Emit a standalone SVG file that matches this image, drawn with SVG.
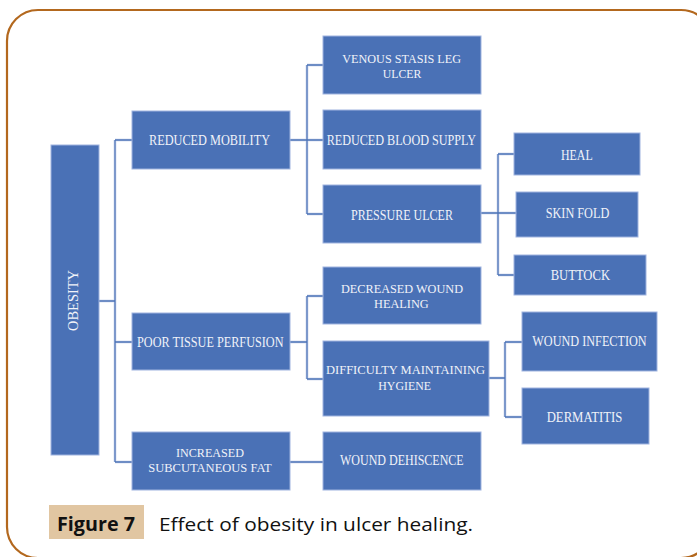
<svg xmlns="http://www.w3.org/2000/svg" width="697" height="557" viewBox="0 0 697 557">
<style>
.frame{fill:none;stroke:#b3681e;stroke-width:2.2}
.box{fill:#4a71b6;stroke:#9fb4df;stroke-width:1}
.lbl{font-family:"Liberation Serif","DejaVu Serif",serif;font-size:15.5px;fill:#f1f3f9}
.two{font-size:13.5px}
.con{fill:none;stroke:#4a71b6;stroke-width:1.3}
.halo{fill:none;stroke:#b9c8e8;stroke-width:3}
.cap{font-family:"Open Sans","Liberation Sans",sans-serif;font-size:19px;fill:#111}
</style>
<rect class="frame" x="7" y="10" width="705" height="548" rx="31" ry="31"/>

<g id="connectors">
  <g class="halo" opacity="0.5">
    <path d="M99,301H115M115,140V462M115,140H132M115,342H132M115,462H132"/>
    <path d="M290,140H307M307,65V214M307,65H323M307,140H323M307,214H323"/>
    <path d="M481,213H498M498,154V275M498,154H514M498,213H516M498,275H514"/>
    <path d="M290,342H307M307,296V379M307,296H323M307,379H323"/>
    <path d="M489,378H505M505,342V417M505,342H522M505,417H522"/>
    <path d="M290,462H323"/>
  </g>
  <path class="con" d="M99,301H115M115,140V462M115,140H132M115,342H132M115,462H132"/>
  <path class="con" d="M290,140H307M307,65V214M307,65H323M307,140H323M307,214H323"/>
  <path class="con" d="M481,213H498M498,154V275M498,154H514M498,213H516M498,275H514"/>
  <path class="con" d="M290,342H307M307,296V379M307,296H323M307,379H323"/>
  <path class="con" d="M489,378H505M505,342V417M505,342H522M505,417H522"/>
  <path class="con" d="M290,462H323"/>
</g>

<g id="obesity">
  <rect class="box" x="51" y="145" width="48" height="310"/>
  <text class="lbl" style="font-size:14px" transform="translate(78.3,331) rotate(-90)" textLength="61" lengthAdjust="spacingAndGlyphs">OBESITY</text>
</g>

<g id="reduced-mobility">
  <rect class="box" x="132" y="111" width="158" height="58"/>
  <text class="lbl" x="149" y="144.5" textLength="121" lengthAdjust="spacingAndGlyphs">REDUCED MOBILITY</text>
</g>
<g id="poor-tissue-perfusion">
  <rect class="box" x="132" y="313" width="158" height="57"/>
  <text class="lbl" x="137" y="346.5" textLength="146.5" lengthAdjust="spacingAndGlyphs">POOR TISSUE PERFUSION</text>
</g>
<g id="increased-subcutaneous-fat">
  <rect class="box" x="132" y="432" width="158" height="58"/>
  <text class="lbl two"><tspan x="176" y="456.5" textLength="68" lengthAdjust="spacingAndGlyphs">INCREASED</tspan><tspan x="148.3" y="472" textLength="123.4" lengthAdjust="spacingAndGlyphs">SUBCUTANEOUS FAT</tspan></text>
</g>

<g id="venous-stasis-leg-ulcer">
  <rect class="box" x="323" y="36" width="158" height="58"/>
  <text class="lbl two"><tspan x="342.3" y="62.5" textLength="118.7" lengthAdjust="spacingAndGlyphs">VENOUS STASIS LEG</tspan><tspan x="382.7" y="78" textLength="38.6" lengthAdjust="spacingAndGlyphs">ULCER</tspan></text>
</g>
<g id="reduced-blood-supply">
  <rect class="box" x="323" y="110" width="158" height="59"/>
  <text class="lbl" x="326.7" y="144.5" textLength="149.3" lengthAdjust="spacingAndGlyphs">REDUCED BLOOD SUPPLY</text>
</g>
<g id="pressure-ulcer">
  <rect class="box" x="323" y="185" width="158" height="58"/>
  <text class="lbl" x="351" y="219.5" textLength="102" lengthAdjust="spacingAndGlyphs">PRESSURE ULCER</text>
</g>
<g id="decreased-wound-healing">
  <rect class="box" x="323" y="267" width="158" height="57"/>
  <text class="lbl two"><tspan x="341" y="292.5" textLength="122" lengthAdjust="spacingAndGlyphs">DECREASED WOUND</tspan><tspan x="374" y="308" textLength="54.7" lengthAdjust="spacingAndGlyphs">HEALING</tspan></text>
</g>
<g id="difficulty-maintaining-hygiene">
  <rect class="box" x="323" y="341" width="166" height="75"/>
  <text class="lbl two"><tspan x="326" y="374" textLength="159" lengthAdjust="spacingAndGlyphs">DIFFICULTY MAINTAINING</tspan><tspan x="378.3" y="389.5" textLength="52.7" lengthAdjust="spacingAndGlyphs">HYGIENE</tspan></text>
</g>
<g id="wound-dehiscence">
  <rect class="box" x="323" y="432" width="158" height="58"/>
  <text class="lbl" x="340" y="464.6" textLength="123.7" lengthAdjust="spacingAndGlyphs">WOUND DEHISCENCE</text>
</g>

<g id="heal">
  <rect class="box" x="514" y="133" width="126" height="42"/>
  <text class="lbl" x="561" y="159.6" textLength="31.7" lengthAdjust="spacingAndGlyphs">HEAL</text>
</g>
<g id="skin-fold">
  <rect class="box" x="516" y="192" width="122" height="45"/>
  <text class="lbl" x="545.7" y="218.3" textLength="63.6" lengthAdjust="spacingAndGlyphs">SKIN FOLD</text>
</g>
<g id="buttock">
  <rect class="box" x="514" y="255" width="132" height="40"/>
  <text class="lbl" x="550.7" y="280.3" textLength="59.3" lengthAdjust="spacingAndGlyphs">BUTTOCK</text>
</g>
<g id="wound-infection">
  <rect class="box" x="522" y="312" width="135" height="59"/>
  <text class="lbl" x="532.3" y="346.3" textLength="114.4" lengthAdjust="spacingAndGlyphs">WOUND INFECTION</text>
</g>
<g id="dermatitis">
  <rect class="box" x="522" y="388" width="127" height="56"/>
  <text class="lbl" x="546.7" y="421.6" textLength="75.6" lengthAdjust="spacingAndGlyphs">DERMATITIS</text>
</g>

<g id="caption">
  <rect x="49" y="505" width="95" height="34" fill="#e1c6a2"/>
  <text class="cap" x="57" y="531" font-weight="bold" textLength="78" lengthAdjust="spacingAndGlyphs">Figure 7</text>
  <text class="cap" x="159" y="531" textLength="314" lengthAdjust="spacingAndGlyphs">Effect of obesity in ulcer healing.</text>
</g>
</svg>
